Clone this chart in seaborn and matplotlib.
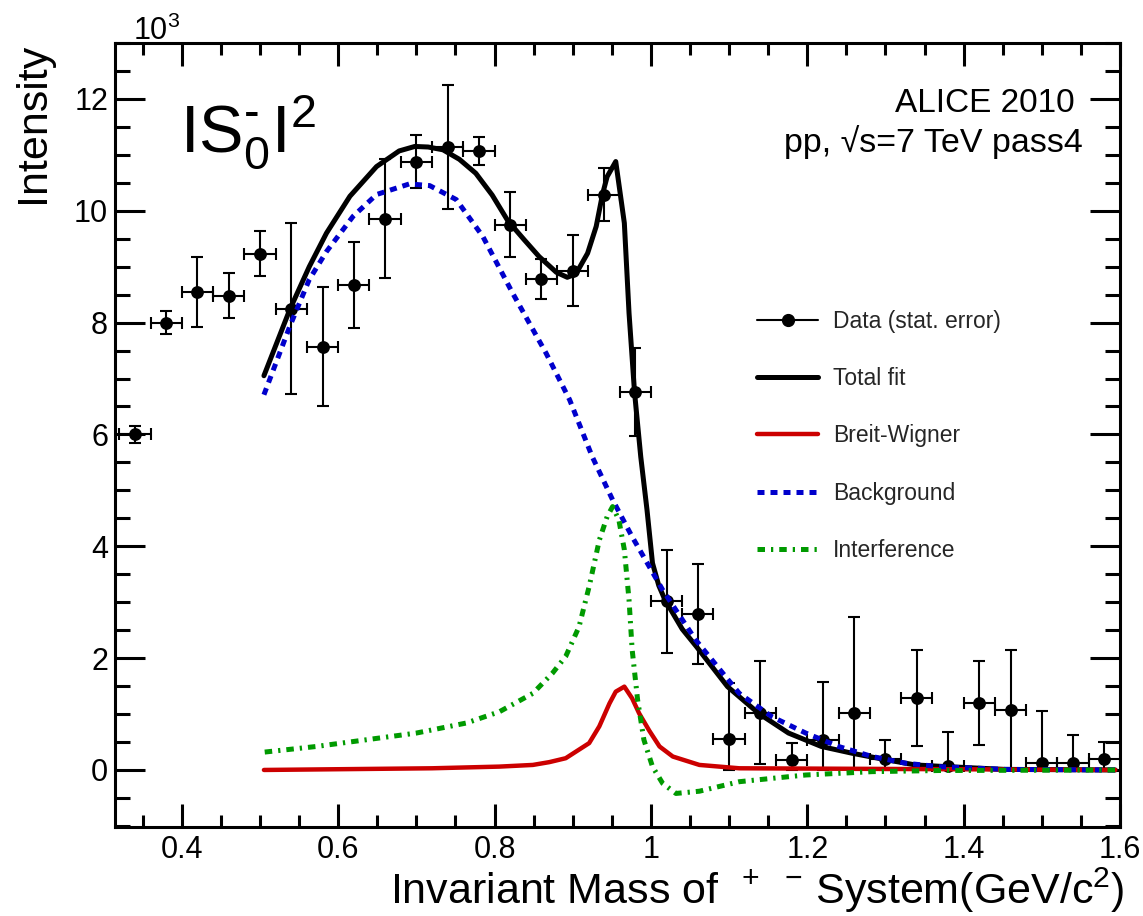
import numpy as np
import matplotlib
matplotlib.use('Agg')
import matplotlib.pyplot as plt
import seaborn as sns
from matplotlib.ticker import MultipleLocator, FuncFormatter
from matplotlib.lines import Line2D

# ---------------- data (values in units of 10^3) ----------------
mass = [0.34, 0.38, 0.42, 0.46, 0.50, 0.54, 0.58, 0.62, 0.66, 0.70, 0.74, 0.78,
        0.82, 0.86, 0.90, 0.94, 0.98, 1.02, 1.06, 1.10, 1.14, 1.18, 1.22, 1.26,
        1.30, 1.34, 1.38, 1.42, 1.46, 1.50, 1.54, 1.58]
intensity = [6.00, 8.00, 8.55, 8.48, 9.23, 8.25, 7.57, 8.68, 9.86, 10.88, 11.14, 11.07,
             9.75, 8.78, 8.93, 10.29, 6.76, 3.02, 2.79, 0.55, 1.02, 0.18, 0.54, 1.02,
             0.20, 1.29, 0.07, 1.19, 1.07, 0.12, 0.12, 0.20]
stat_err = [0.15, 0.20, 0.63, 0.40, 0.40, 1.53, 1.06, 0.77, 1.06, 0.47, 1.10, 0.25,
            0.58, 0.35, 0.63, 0.48, 0.79, 0.92, 0.89, 1.00, 0.92, 0.30, 1.03, 1.72,
            0.34, 0.86, 0.61, 0.75, 1.07, 0.93, 0.51, 0.30]
bin_half_width = [0.02] * len(mass)

fit_x = [0.505, 0.538, 0.563, 0.585, 0.615, 0.649, 0.678, 0.698, 0.715, 0.734, 0.755,
         0.776, 0.797, 0.817, 0.838, 0.857, 0.879, 0.893, 0.904, 0.919, 0.930, 0.938,
         0.944, 0.955, 0.966, 0.972, 0.979, 0.987, 0.995, 1.002, 1.010, 1.018, 1.040,
         1.058, 1.098, 1.138, 1.176, 1.218, 1.257, 1.298, 1.338, 1.377, 1.453, 1.594]
fit_y = [7.05, 8.23, 9.00, 9.60, 10.26, 10.79, 11.07, 11.15, 11.14, 11.09, 10.92,
         10.67, 10.28, 9.82, 9.48, 9.18, 8.90, 8.81, 8.87, 9.24, 9.72, 10.29,
         10.61, 10.88, 9.78, 8.17, 6.76, 5.60, 4.65, 3.70, 3.30, 3.04, 2.52,
         2.21, 1.49, 1.01, 0.66, 0.42, 0.30, 0.19, 0.09, 0.06, 0.01, 0.00]

bw_x = [0.505, 0.720, 0.806, 0.849, 0.870, 0.891, 0.921, 0.934, 0.947, 0.955, 0.966,
        0.976, 0.985, 0.998, 1.011, 1.028, 1.062, 1.113, 1.594]
bw_y = [0.00, 0.03, 0.06, 0.09, 0.14, 0.21, 0.48, 0.78, 1.19, 1.40, 1.49,
        1.28, 1.01, 0.70, 0.42, 0.24, 0.09, 0.03, 0.00]

bkg_x = [0.505, 0.538, 0.563, 0.585, 0.619, 0.649, 0.691, 0.717, 0.751, 0.785, 0.823,
         0.866, 0.896, 0.925, 0.951, 0.976, 1.015, 1.057, 1.113, 1.155, 1.198, 1.240,
         1.283, 1.326, 1.368, 1.453, 1.594]
bkg_y = [6.71, 7.93, 8.77, 9.27, 9.90, 10.29, 10.48, 10.45, 10.20, 9.54, 8.53,
         7.45, 6.62, 5.60, 4.83, 4.17, 3.22, 2.33, 1.37, 0.95, 0.66, 0.42,
         0.24, 0.12, 0.06, 0.01, 0.00]

int_x = [0.506, 0.572, 0.636, 0.700, 0.764, 0.806, 0.849, 0.874, 0.891, 0.908, 0.921,
         0.934, 0.944, 0.951, 0.959, 0.966, 0.972, 0.976, 0.983, 0.991, 1.002, 1.015,
         1.032, 1.062, 1.113, 1.155, 1.198, 1.283, 1.368, 1.594]
int_y = [0.32, 0.42, 0.54, 0.66, 0.84, 1.04, 1.37, 1.73, 2.03, 2.56, 3.28,
         4.11, 4.53, 4.71, 4.47, 3.94, 3.04, 2.15, 1.25, 0.54, 0.06, -0.24,
         -0.42, -0.38, -0.21, -0.15, -0.09, -0.03, -0.01, 0.00]

legend_labels = ['Data (stat. error)', 'Total fit', 'Breit-Wigner', 'Background', 'Interference']

# ---------------- style ----------------
sns.set_theme(style='ticks')
plt.rcParams['font.family'] = ['Liberation Sans', 'DejaVu Sans']
plt.rcParams['mathtext.fontset'] = 'custom'
plt.rcParams['mathtext.rm'] = 'Liberation Sans'
plt.rcParams['mathtext.it'] = 'Liberation Sans:italic'
plt.rcParams['mathtext.bf'] = 'Liberation Sans:bold'
plt.rcParams['mathtext.fallback'] = 'stix'

W, H = 1143, 916
fig = plt.figure(figsize=(W / 100, H / 100), dpi=100)
fig.patch.set_facecolor('white')
ax = fig.add_axes([115 / W, 1 - 827 / H, 1005 / W, 784 / H])
ax.set_facecolor('white')

# ---------------- data points ----------------
y = np.array(intensity)
e = np.array(stat_err)
lower = np.minimum(e, y)
ax.errorbar(mass, intensity, xerr=bin_half_width, yerr=[lower, e], fmt='none',
            ecolor='black', elinewidth=1.5, capsize=4.5, capthick=1.5, zorder=2)
sns.scatterplot(x=mass, y=intensity, color='black', s=85, linewidth=0, zorder=3, ax=ax)

# ---------------- curves ----------------
sns.lineplot(x=fit_x, y=fit_y, ax=ax, color='black', lw=3.6, sort=False,
             estimator=None, zorder=4)
fit_line = ax.lines[-1]
sns.lineplot(x=bw_x, y=bw_y, ax=ax, color='#cc0000', lw=3.2, sort=False,
             estimator=None, zorder=5)
bw_line = ax.lines[-1]
sns.lineplot(x=bkg_x, y=bkg_y, ax=ax, color='#0000cc', lw=3.6, sort=False,
             estimator=None, zorder=6)
bkg_line = ax.lines[-1]
bkg_line.set_dashes([1.4, 1.2])
sns.lineplot(x=int_x, y=int_y, ax=ax, color='#009a00', lw=3.6, sort=False,
             estimator=None, zorder=7)
int_line = ax.lines[-1]
int_line.set_dashes([1.5, 1.2, 0.45, 1.2])

# ---------------- axes ----------------
ax.set_xlim(0.3145, 1.6)
ax.set_ylim(-1.02, 13.0)
ax.xaxis.set_major_locator(MultipleLocator(0.2))
ax.xaxis.set_minor_locator(MultipleLocator(0.05))
ax.yaxis.set_major_locator(MultipleLocator(2))
ax.yaxis.set_minor_locator(MultipleLocator(0.5))
ax.xaxis.set_major_formatter(FuncFormatter(lambda v, p: f'{v:g}'))
ax.yaxis.set_major_formatter(FuncFormatter(lambda v, p: f'{v:g}'))

for s in ax.spines.values():
    s.set_linewidth(2.2)
    s.set_color('black')
    s.set_visible(True)

ax.tick_params(axis='both', which='both', direction='in', top=True, right=True,
               width=2.2, color='black', labelsize=22, labelcolor='black')
ax.tick_params(axis='x', which='major', length=16.5, pad=6)
ax.tick_params(axis='x', which='minor', length=8.5)
ax.tick_params(axis='y', which='major', length=21.5, pad=5)
ax.tick_params(axis='y', which='minor', length=11)
ax.grid(False)

ax.set_xlabel('Invariant Mass of  $^{+}$  $^{-}$ System(GeV/c$^{2}$)',
              fontsize=31, loc='right', color='black')
ax.xaxis.set_label_coords(1.0046, -0.0495)
ax.set_ylabel('Intensity', fontsize=31, loc='top', color='black')
ax.yaxis.set_label_coords(-0.0617, 1.0)

# ---------------- legend ----------------
data_handle = Line2D([], [], color='black', lw=1.5, marker='o', ms=8.5)
ax.legend([data_handle, fit_line, bw_line, bkg_line, int_line], legend_labels,
          loc='upper left', bbox_to_anchor=(0.639, 0.660), frameon=False,
          fontsize=16.5, handlelength=2.66, handletextpad=0.66, labelspacing=1.5,
          borderpad=0, borderaxespad=0)

# ---------------- annotations ----------------
fig.text(180 / W, 1 - 152 / H, '$\\mathregular{IS^{\u2010}_{0}I^{2}}$', fontsize=48,
         ha='left', va='baseline', color='black')
fig.text(133 / W, 1 - 40 / H, r'$\mathregular{10^{3}}$', fontsize=22,
         ha='left', va='baseline', color='black')
fig.text(1075 / W, 1 - 112 / H, 'ALICE 2010', fontsize=24,
         ha='right', va='baseline', color='black')
fig.text(1083 / W, 1 - 152 / H, 'pp, \u221as=7 TeV pass4', fontsize=24.5,
         ha='right', va='baseline', color='black')

fig.savefig('out.png', dpi=100, facecolor='white')
